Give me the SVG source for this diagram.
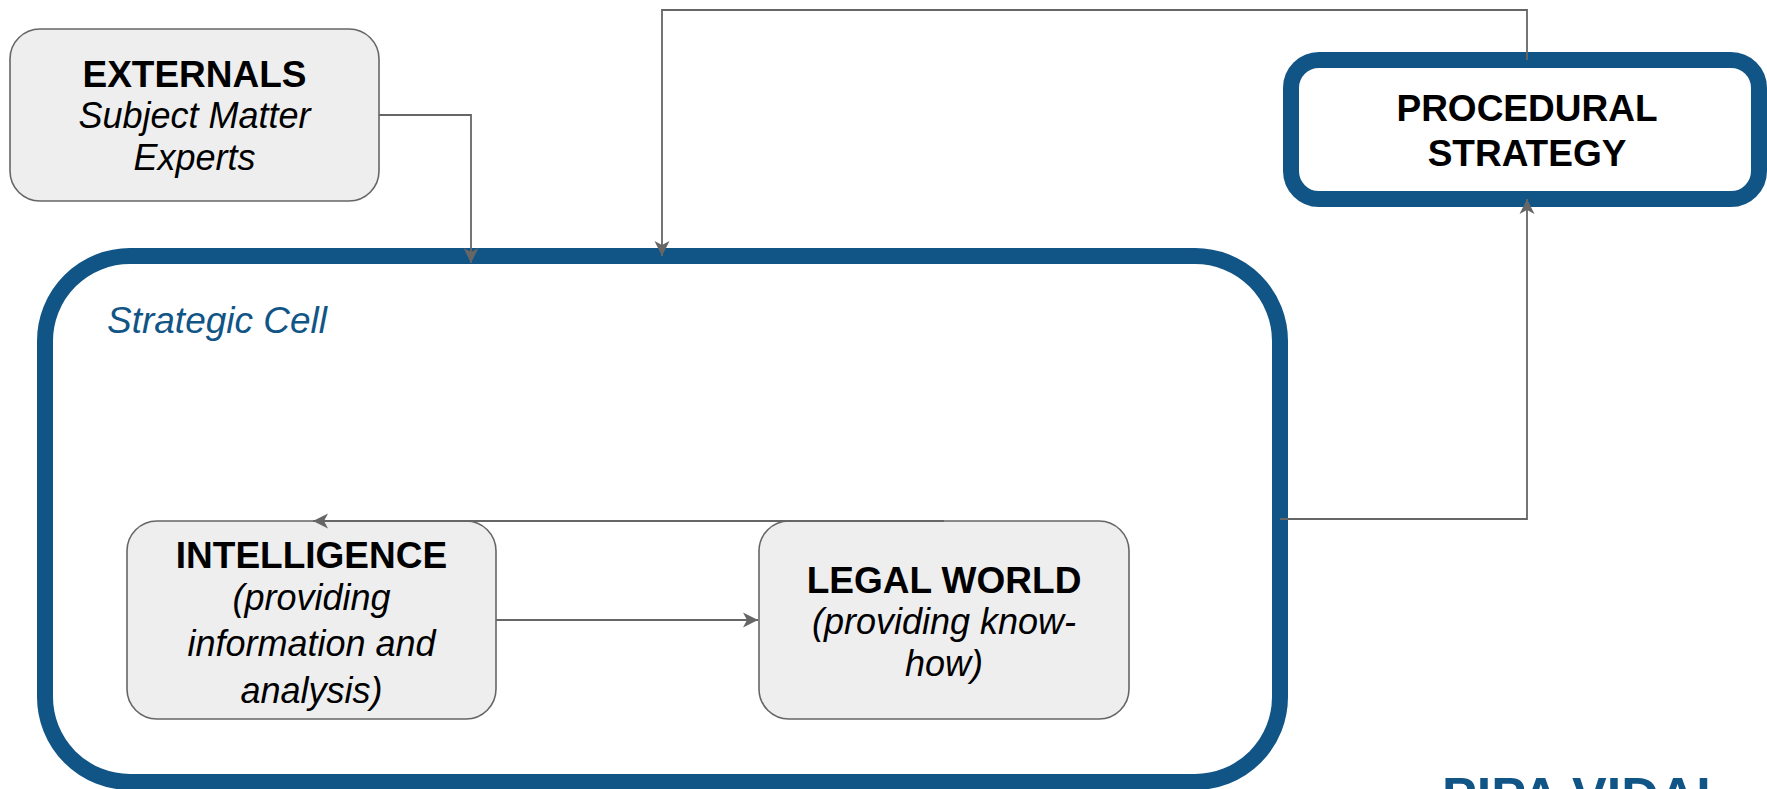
<svg xmlns="http://www.w3.org/2000/svg" width="1767" height="789" viewBox="0 0 1767 789">
<style>
.node{fill:#eeeeee;stroke:#666666;stroke-width:1.6}
.frame{fill:#ffffff;stroke:#115587;stroke-width:16}
.b{font-family:"Liberation Sans",Arial,sans-serif;font-weight:bold;font-size:37px;fill:#000;text-anchor:middle}
.i{font-family:"Liberation Sans",Arial,sans-serif;font-style:italic;font-size:36px;fill:#000;text-anchor:middle}
.conn{fill:none;stroke:#666666;stroke-width:1.8}
</style>
<defs>
<marker id="arr" markerUnits="userSpaceOnUse" markerWidth="16" markerHeight="16" viewBox="0 0 16 16" refX="15" refY="8" orient="auto">
<path d="M0,0.5 L15,8 L0,15.5 L4,8 z" fill="#666666"/>
</marker>
</defs>
<rect width="1767" height="789" fill="#ffffff"/>
<g id="strategic-cell">
<rect class="frame" x="45" y="256" width="1235" height="526" rx="85" ry="85"/>
<text x="107" y="333" font-family="'Liberation Sans',Arial,sans-serif" font-style="italic" font-size="37" fill="#115587">Strategic Cell</text>
</g>
<g id="procedural-strategy">
<rect class="frame" x="1291" y="60" width="468" height="139" rx="28" ry="28"/>
<text class="b" x="1527" y="121">PROCEDURAL</text>
<text class="b" x="1527" y="166">STRATEGY</text>
</g>
<g id="externals">
<rect class="node" x="10" y="29" width="369" height="172" rx="30" ry="30"/>
<text class="b" x="194.5" y="87">EXTERNALS</text>
<text class="i" x="194.5" y="128" font-size="34.5">Subject Matter</text>
<text class="i" x="194.5" y="170" font-size="34.5">Experts</text>
</g>
<g id="intelligence">
<rect class="node" x="127" y="521" width="369" height="198" rx="30" ry="30"/>
<text class="b" x="311.5" y="568">INTELLIGENCE</text>
<text class="i" x="311.5" y="610" font-size="36.5">(providing</text>
<text class="i" x="311.5" y="656" font-size="36.5">information and</text>
<text class="i" x="311.5" y="703" font-size="36.5">analysis)</text>
</g>
<g id="legal-world">
<rect class="node" x="759" y="521" width="370" height="198" rx="30" ry="30"/>
<text class="b" x="944" y="593">LEGAL WORLD</text>
<text class="i" x="944" y="634" font-size="34.5">(providing know-</text>
<text class="i" x="944" y="676" font-size="34.5">how)</text>
</g>
<g id="connectors">
<path class="conn" d="M379,115 H471 V263" marker-end="url(#arr)"/>
<path class="conn" d="M1527,60 V10 H662 V256" marker-end="url(#arr)"/>
<path class="conn" d="M1280,519 H1527 V199" marker-end="url(#arr)"/>
<path class="conn" d="M944,521 H313" marker-end="url(#arr)"/>
<path class="conn" d="M496,620 H758" marker-end="url(#arr)"/>
</g>
<text x="1442" y="814" font-family="'Liberation Sans',Arial,sans-serif" font-weight="bold" font-size="52" fill="#115587">PIPA VIDAL</text>
</svg>
